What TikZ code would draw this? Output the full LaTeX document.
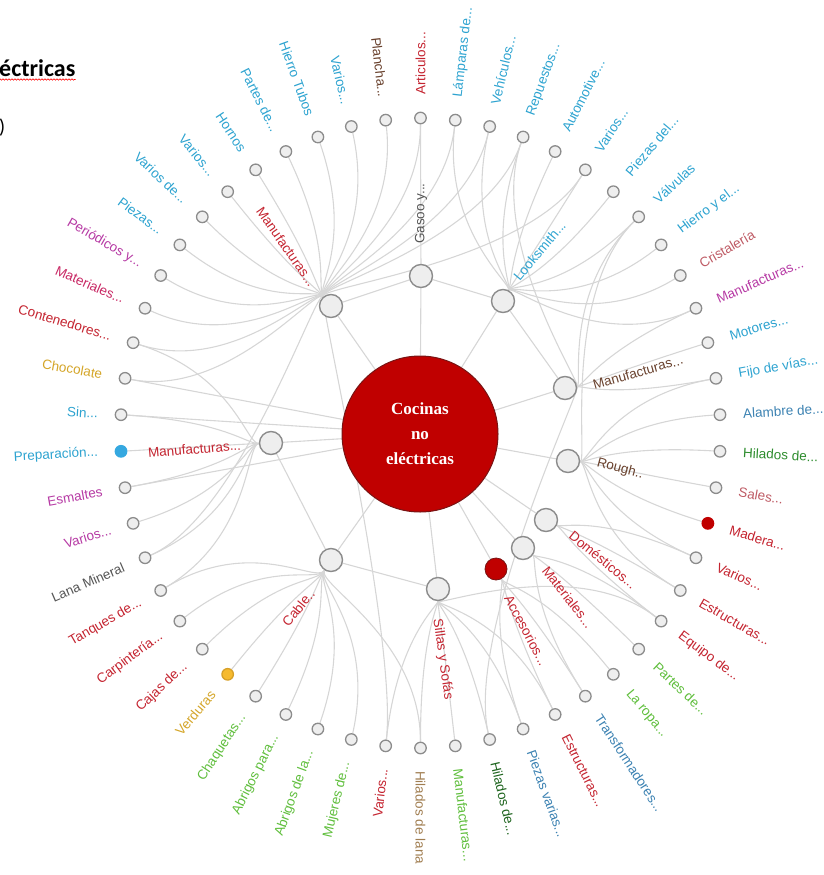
\documentclass[tikz,border=0pt]{standalone}
\usepackage{fontspec}
\setmainfont{Liberation Sans}
\newfontfamily\wordfont{Carlito}
\newfontfamily\centrefont{Liberation Serif}
\usetikzlibrary{calc, positioning, backgrounds, decorations.pathmorphing}

\definecolor{leafgray}{RGB}{238,238,238}
\definecolor{ringgray}{RGB}{140,140,140}
\definecolor{linkgray}{RGB}{214,214,214}
\definecolor{centrered}{RGB}{192,0,0}
\definecolor{centredark}{RGB}{120,20,20}
\definecolor{yellowfill}{RGB}{246,186,46}
\definecolor{yellowdark}{RGB}{215,160,40}
\definecolor{bluefill}{RGB}{53,168,224}
\definecolor{lblcyan}{RGB}{45,163,208}
\definecolor{lblsteel}{RGB}{60,130,178}
\definecolor{lblred}{RGB}{196,36,48}
\definecolor{lblcrimson}{RGB}{200,40,100}
\definecolor{lblmag}{RGB}{182,58,164}
\definecolor{lblrose}{RGB}{190,90,100}
\definecolor{lblbrown}{RGB}{105,65,45}
\definecolor{lblgreen}{RGB}{45,140,45}
\definecolor{lbllgreen}{RGB}{95,190,60}
\definecolor{lbldgreen}{RGB}{30,100,30}
\definecolor{lbltan}{RGB}{160,125,80}
\definecolor{lblyellow}{RGB}{212,165,40}
\definecolor{lblgray}{RGB}{85,85,85}
\newcommand{\el}{...}

\begin{document}
\begin{tikzpicture}[x=1pt, y=-1pt,
  leaf/.style={circle, line width=1.3pt, minimum size=11.5pt, inner sep=0pt},
  hub/.style={circle, draw=ringgray, fill=leafgray, line width=1.4pt, minimum size=23pt, inner sep=0pt},
  link/.style={draw=linkgray, line width=1.1pt},
  leaflabel/.style={font=\fontsize{13.5}{14}\selectfont, inner sep=2pt},
  hublabel/.style={font=\fontsize{13.5}{14}\selectfont, inner sep=0pt}]
\useasboundingbox (0,0) rectangle (824,875);
% page text around the chart
\node[anchor=base west, inner sep=0pt, font=\wordfont\bfseries\fontsize{24}{26}\selectfont] (ttl) at (-1,76) {éctricas};
\draw[red, line width=0.6pt, decorate, decoration={snake, amplitude=0.7pt, segment length=3pt}] ([yshift=-3.5pt]ttl.base west) -- ([yshift=-3.5pt]ttl.base east);
\node[anchor=base west, inner sep=0pt, font=\wordfont\fontsize{20}{22}\selectfont] (par) at (-1,133) {)};
% centre
\node[circle, fill=centrered, draw=centredark, line width=1pt, minimum size=156pt, text=white, align=center, font=\centrefont\bfseries\fontsize{17}{25}\selectfont] (c) at (420,434) {Cocinas\\no\\eléctricas};
% hubs
\node[hub] (hA) at (331,306) {};
\node[hub] (hB) at (421,276) {};
\node[hub] (hC) at (503,301) {};
\node[hub] (hD) at (565,388) {};
\node[hub] (hE) at (568,461) {};
\node[hub] (hF) at (546,520) {};
\node[hub] (hG) at (523,548) {};
\node[hub, fill=centrered, draw=centredark, line width=0.8pt, minimum size=22pt] (hH) at (496,569) {};
\node[hub] (hI) at (438,589) {};
\node[hub] (hJ) at (331,560) {};
\node[hub] (hK) at (271,443) {};
\node[hublabel, text=lblred, rotate=-55, anchor=east] (lA) at (313,285) {Manufacturas\el};
\node[hublabel, text=lblgray, rotate=90, anchor=west] (lB) at (421,244) {Gasoo y\el};
\node[hublabel, text=lblcyan, rotate=50, anchor=west] (lC) at (516,279) {Looksmith\el};
\node[hublabel, text=lblbrown, rotate=16, anchor=west] (lD) at (593,385) {Manufacturas\el};
\node[hublabel, text=lblbrown, rotate=-15, anchor=west] (lE) at (597,463) {Rough..};
\node[hublabel, text=lblred, rotate=-39, anchor=west] (lF) at (571,534) {Domésticos\el};
\node[hublabel, text=lblred, rotate=-52, anchor=west] (lG) at (545,568) {Materiales\el};
\node[hublabel, text=lblred, rotate=-62, anchor=west] (lH) at (508,596) {Accesorios\el};
\node[hublabel, text=lblred, rotate=-82, anchor=west] (lI) at (437,619) {Sillas y Sofás};
\node[hublabel, text=lblred, rotate=51, anchor=east] (lJ) at (312,591) {Cable..};
\node[hublabel, text=lblred, rotate=5, anchor=east] (lK) at (241,445) {Manufacturas\el};
% where the bundles meet
\coordinate (pA) at (316,287);
\coordinate (pB) at (421,258);
\coordinate (pC) at (512,284);
\coordinate (pD) at (583,386);
\coordinate (pE) at (588,462);
\coordinate (pF) at (562,528);
\coordinate (pG) at (537,558);
\coordinate (pH) at (505,586);
\coordinate (pI) at (438,606);
\coordinate (pJ) at (316,584);
\coordinate (pK) at (246,444);
% leaves round the ring
\foreach \txt/\col/\fil/\bor [count=\i from 0] in {
  Articulos\el/lblred/leafgray/ringgray, Lámparas de\el/lblcyan/leafgray/ringgray,
  Vehículos\el/lblcyan/leafgray/ringgray, Repuestos\el/lblcyan/leafgray/ringgray,
  Automotive\el/lblcyan/leafgray/ringgray, Varios\el/lblcyan/leafgray/ringgray,
  Piezas del\el/lblcyan/leafgray/ringgray, Válvulas/lblcyan/leafgray/ringgray,
  Hierro y el\el/lblcyan/leafgray/ringgray, Cristalería/lblrose/leafgray/ringgray,
  Manufacturas\el/lblmag/leafgray/ringgray, Motores\el/lblcyan/leafgray/ringgray,
  Fijo de vías\el/lblcyan/leafgray/ringgray, Alambre de\el/lblsteel/leafgray/ringgray,
  Hilados de\el/lblgreen/leafgray/ringgray, Sales\el/lblrose/leafgray/ringgray,
  Madera\el/lblred/centrered/centrered, Varios\el/lblred/leafgray/ringgray,
  Estructuras\el/lblred/leafgray/ringgray, Equipo de\el/lblred/leafgray/ringgray,
  Partes de\el/lbllgreen/leafgray/ringgray, La ropa\el/lbllgreen/leafgray/ringgray,
  Transformadores\el/lblsteel/leafgray/ringgray, Estructuras\el/lblred/leafgray/ringgray,
  Piezas varias\el/lblsteel/leafgray/ringgray, Hilados de\el/lbldgreen/leafgray/ringgray,
  Manufacturas\el/lbllgreen/leafgray/ringgray, Hilados de lana/lbltan/leafgray/ringgray,
  Varios\el/lblred/leafgray/ringgray, Mujeres de\el/lbllgreen/leafgray/ringgray,
  Abrigos de la\el/lbllgreen/leafgray/ringgray, Abrigos para\el/lbllgreen/leafgray/ringgray,
  Chaquetas\el/lbllgreen/leafgray/ringgray, Verduras/lblyellow/yellowfill/yellowdark,
  Cajas de\el/lblred/leafgray/ringgray, Carpintería\el/lblred/leafgray/ringgray,
  Tanques de\el/lblred/leafgray/ringgray, Lana Mineral/lblgray/leafgray/ringgray,
  Varios\el/lblmag/leafgray/ringgray, Esmaltes/lblmag/leafgray/ringgray,
  Preparación\el/lblcyan/bluefill/bluefill, Sin\el/lblcyan/leafgray/ringgray,
  Chocolate/lblyellow/leafgray/ringgray, Contenedores\el/lblred/leafgray/ringgray,
  Materiales\el/lblcrimson/leafgray/ringgray, Periódicos y\el/lblmag/leafgray/ringgray,
  Piezas\el/lblcyan/leafgray/ringgray, Varios de\el/lblcyan/leafgray/ringgray,
  Varios\el/lblcyan/leafgray/ringgray, Hornos/lblcyan/leafgray/ringgray,
  Partes de\el/lblcyan/leafgray/ringgray, Hierro Tubos/lblcyan/leafgray/ringgray,
  Varios\el/lblcyan/leafgray/ringgray, Plancha\el/lblbrown/leafgray/ringgray} {
  \pgfmathsetmacro\ang{90-\i*20/3}
  \pgfmathsetmacro\x{420.5+300*cos(\ang)}
  \pgfmathsetmacro\y{433-315*sin(\ang)}
  \pgfmathsetmacro\lx{420.5+321*cos(\ang)}
  \pgfmathsetmacro\ly{433-336*sin(\ang)}
  \pgfmathsetmacro\cosa{cos(\ang)}
  \ifdim\cosa pt<-0.01pt \def\anc{east}\pgfmathsetmacro\rot{\ang+180}\else\def\anc{west}\let\rot\ang\fi
  \node[leaf, fill=\fil, draw=\bor] (o\i) at (\x,\y) {};
  \node[leaflabel, text=\col, rotate=\rot, anchor=\anc] (t\i) at (\lx,\ly) {\txt};
}
% links
\begin{scope}[on background layer]
\foreach \o/\h in {0/A,1/A,2/A,3/A,5/A,28/A,37/A,42/A,43/A,44/A,45/A,46/A,47/A,48/A,49/A,50/A,51/A,52/A,53/A,
  1/C,2/C,3/C,4/C,5/C,6/C,7/C,8/C,9/C,10/C,
  3/D,7/D,10/D,11/D,12/D,25/D,
  7/E,12/E,13/E,14/E,15/E,16/E,17/E,18/E,
  17/F,18/F,19/F,
  19/G,20/G,22/G,
  21/H,22/H,23/H,24/H,
  19/I,23/I,24/I,25/I,26/I,27/I,28/I,
  27/J,29/J,30/J,31/J,32/J,33/J,34/J,35/J,36/J,
  36/K,37/K,38/K,39/K,40/K,41/K,43/K}
  \draw[link] (o\o) .. controls ($(o\o)!0.35!(c)$) and (p\h) .. (h\h);
\foreach \h in {A,B,C,D,E,F,G,H,I,J,K}
  \draw[link] (h\h) -- (c);
\foreach \o in {39,41,42}
  \draw[link] (o\o) -- (c);
\draw[link] (o0) -- (hB);
\draw[link] (hA) -- (hB);
\draw[link] (hB) -- (hC);
\draw[link] (hC) -- (hD);
\draw[link] (hJ) -- (hI);
\draw[link] (hK) -- (hJ);
\end{scope}
\end{tikzpicture}
\end{document}
